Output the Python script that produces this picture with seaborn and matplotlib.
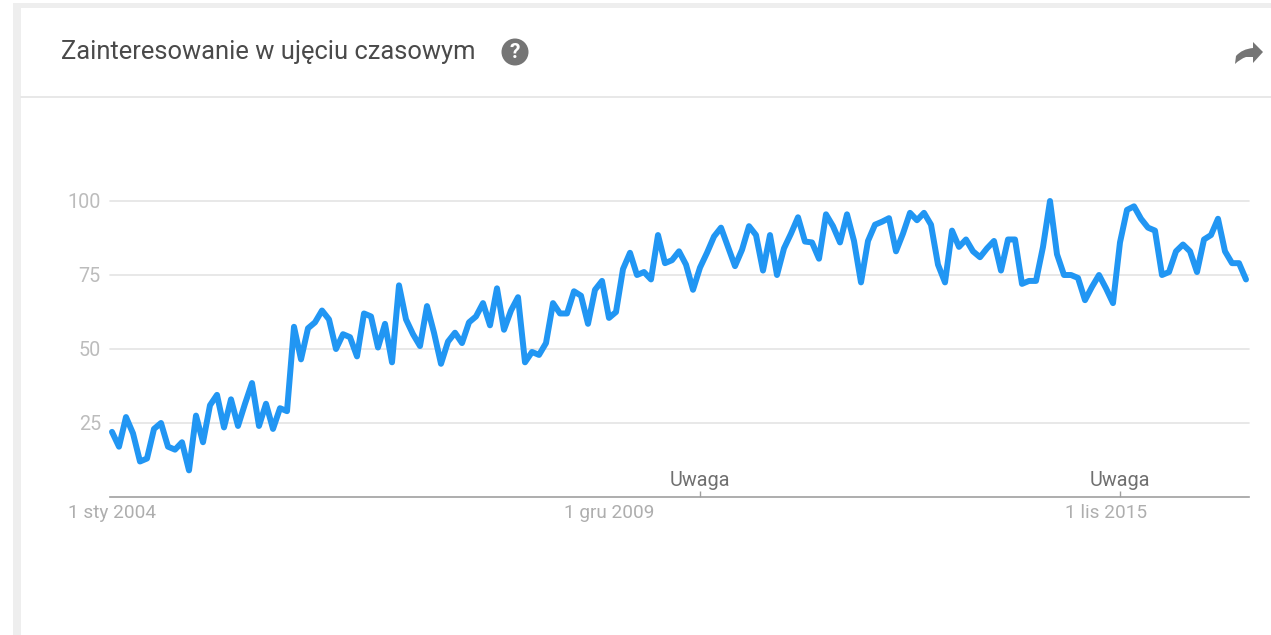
import numpy as np
import pandas as pd
import matplotlib
matplotlib.use("Agg")
import matplotlib.pyplot as plt
from matplotlib.patches import Circle, PathPatch, Rectangle
from matplotlib.path import Path
import seaborn as sns

W, H = 1271, 635

sns.set_theme(style="white")
plt.rcParams['font.family'] = ['Roboto', 'DejaVu Sans']

# dane (miesiace od poczatku serii)
interest = [
    22, 17, 27, 21.5, 12, 13, 23, 25, 17, 16, 18.5, 9, 27.5, 18.5, 31, 34.5, 23.5, 33, 24, 31.5,
    38.5, 24, 31.5, 23, 30, 29, 57.5, 46.5, 57, 59, 63, 60, 50, 55, 54, 47.5, 62, 61, 50.5, 58.5,
    45.5, 71.5, 60, 55, 51, 64.5, 55.5, 45, 52.5, 55.5, 52, 59, 61, 65.5, 58, 70.5, 56.5, 63, 67.5, 45.5,
    49, 48, 52, 65.5, 62, 62, 69.5, 68, 58.5, 70, 73, 60.5, 62.5, 77, 82.5, 75, 76, 73.5, 88.5, 79,
    80, 83, 78.5, 70, 77.5, 82.5, 88, 91, 84.5, 78, 83.5, 91.5, 88.5, 76.5, 88.5, 75, 84, 89, 94.5, 86.3,
    86, 80.5, 95.5, 91.5, 86, 95.5, 86.5, 72.5, 86.5, 92, 93, 94.2, 83, 89, 96, 93.5, 96, 92, 78.5, 72.5,
    90, 84.5, 87, 83, 81, 84, 86.5, 76.5, 87, 87, 72, 73, 73, 84.5, 100, 82, 75, 75, 74, 66.5,
    71, 75, 70.5, 65.5, 86, 97, 98.2, 94, 91, 90, 75, 76, 83, 85.3, 83, 76, 87, 88.5, 94, 83,
    79, 79, 73.5,
]
months = list(range(len(interest)))
y_ticks = [25, 50, 75, 100]
x_ticks = [0, 71, 142]
x_labels = ["1 sty 2004", "1 gru 2009", "1 lis 2015"]
note_months = [84, 144]
note_text = "Uwaga"
title = "Zainteresowanie w ujęciu czasowym"

df = pd.DataFrame({"month": months, "interest": interest})

fig = plt.figure(figsize=(W / 100, H / 100), dpi=100, facecolor="white")
# os w pikselach figury: uklad (0..W, 0..H) z gora na gorze
bg = fig.add_axes([0, 0, 1, 1], zorder=0)
bg.set_xlim(0, W)
bg.set_ylim(H, 0)
bg.axis("off")

# karta z szarym brzegiem
bg.add_patch(Rectangle((13, 3), W - 13, H - 3, fc="#eeeeee", ec="none"))
bg.add_patch(Rectangle((21, 8), W - 21, H - 8, fc="white", ec="none"))
bg.plot([21, W], [96.5, 96.5], color="#e4e4e4", lw=1.2)

bg.text(61, 52, title, fontsize=18.4, color="#4a4a4a", va="center", ha="left")

# ikona pomocy
bg.add_patch(Circle((515, 52), 13.5, fc="#757575", ec="none"))
bg.text(515, 52.5, "?", color="white", fontsize=15, fontweight="bold", ha="center", va="center")

# strzalka udostepniania
arrow = Path(
    [(1263, 52), (1253, 42), (1253, 48), (1242, 49), (1236, 56), (1235, 64),
     (1240, 59), (1246, 57), (1253, 57), (1253, 63), (1263, 52)],
    [Path.MOVETO, Path.LINETO, Path.LINETO, Path.CURVE3, Path.CURVE3, Path.LINETO,
     Path.CURVE3, Path.CURVE3, Path.LINETO, Path.LINETO, Path.CLOSEPOLY],
)
bg.add_patch(PathPatch(arrow, fc="#757575", ec="none"))

ax = fig.add_axes([110 / W, (H - 497) / H, 1139 / W, 296 / H], zorder=1)
ax.patch.set_alpha(0)

sns.lineplot(data=df, x="month", y="interest", color="#2196f3", linewidth=4.3, ax=ax, clip_on=False, zorder=3)
ax.lines[0].set_solid_joinstyle("round")

ax.set_xlim(-2 / 7, 1137 / 7)
ax.set_ylim(0, 100)
ax.set_xlabel("")
ax.set_ylabel("")

ax.set_yticks(y_ticks)
ax.set_xticks(x_ticks)
ax.set_xticklabels(x_labels)
ax.set_xticks(note_months, minor=True)
ax.grid(axis="y", color="#e4e4e4", lw=1.2, clip_on=False)
ax.tick_params(axis="y", length=0, pad=6.5, labelsize=14.2, labelcolor="#bcbcbc")
ax.tick_params(axis="x", which="major", length=0, pad=5, labelsize=13.7, labelcolor="#aeaeae")
ax.tick_params(axis="x", which="minor", bottom=True, direction="in", length=4, width=1, color="#a0a0a0")

for side in ["top", "left", "right"]:
    ax.spines[side].set_visible(False)
ax.spines["bottom"].set_color("#a0a0a0")
ax.spines["bottom"].set_linewidth(1.2)

for m in note_months:
    ax.annotate(note_text, xy=(m, 0), xytext=(0, 12), textcoords="offset points",
                ha="center", va="center", fontsize=14.3, color="#707070")

plt.savefig("out.png", dpi=100)
